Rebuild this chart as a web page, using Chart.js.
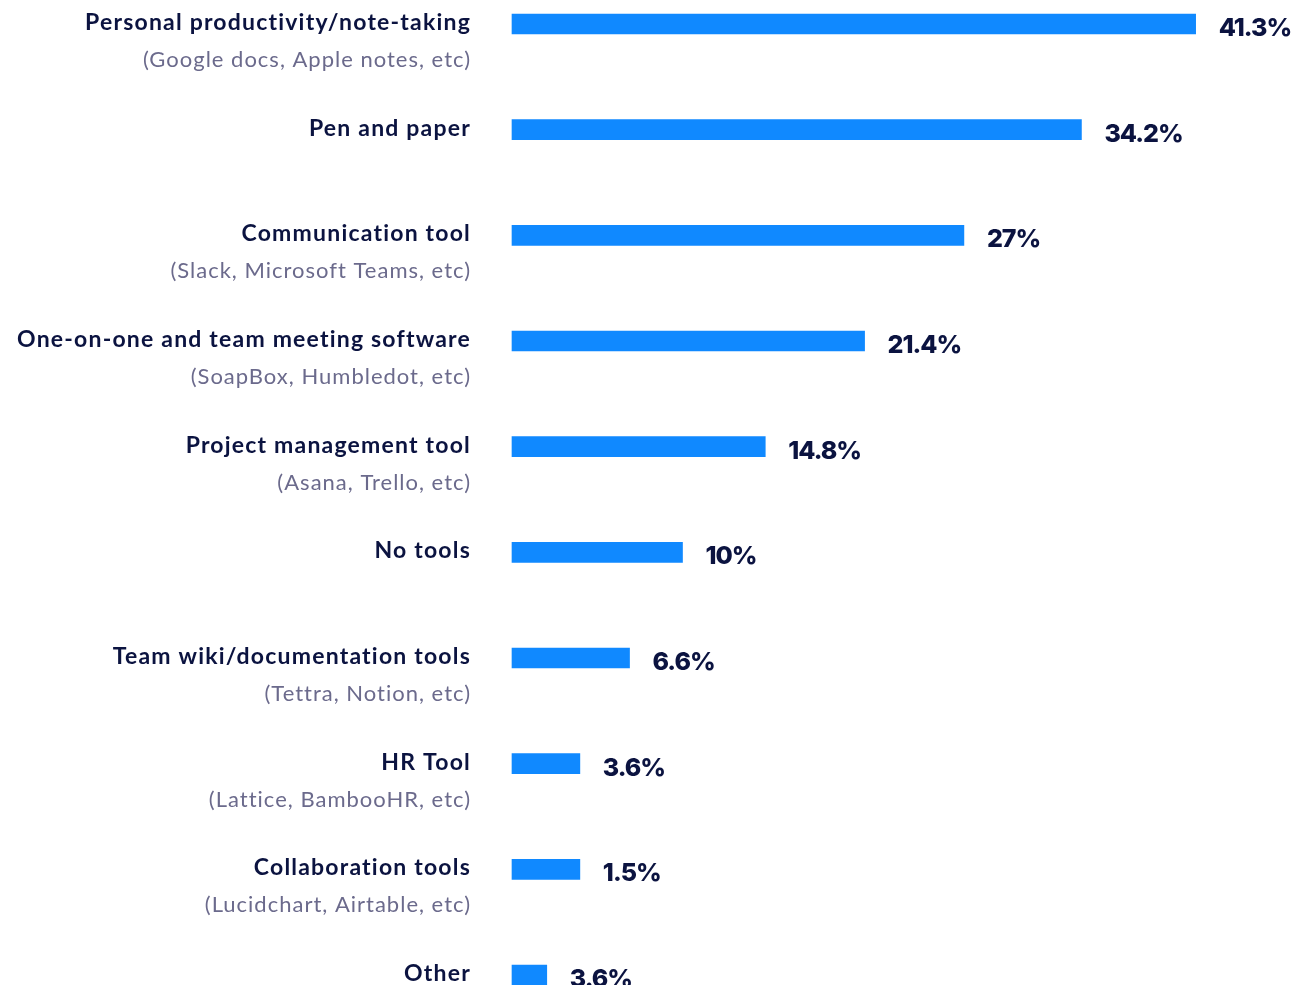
<!DOCTYPE html>
<html>
<head>
<meta charset="utf-8">
<script src="https://cdn.jsdelivr.net/npm/chart.js@4"></script>
<style>
  html, body { margin: 0; padding: 0; background: #ffffff; }
  canvas { display: block; }
</style>
</head>
<body>
<canvas id="grafico" width="1300" height="985"></canvas>
<script>
// categorias e subtitulos (linha cinza por baixo)
const categorias = [
  'Personal productivity/note-taking',
  'Pen and paper',
  'Communication tool',
  'One-on-one and team meeting software',
  'Project management tool',
  'No tools',
  'Team wiki/documentation tools',
  'HR Tool',
  'Collaboration tools',
  'Other'
];
const subtitulos = [
  '(Google docs, Apple notes, etc)',
  '',
  '(Slack, Microsoft Teams, etc)',
  '(SoapBox, Humbledot, etc)',
  '(Asana, Trello, etc)',
  '',
  '(Tettra, Notion, etc)',
  '(Lattice, BambooHR, etc)',
  '(Lucidchart, Airtable, etc)',
  ''
];
// comprimento das barras
const valores = [41.3, 34.4, 27.3, 21.3, 15.3, 10.3, 7.1, 4.1, 4.1, 2.1];
// rotulos mostrados ao lado de cada barra
const rotulos = ['41.3%', '34.2%', '27%', '21.4%', '14.8%', '10%', '6.6%', '3.6%', '1.5%', '3.6%'];

const corBarra = '#1089ff';
const corTexto = '#0b1340';
const corSub = '#6b6a8c';

// desenha os nomes das categorias a esquerda
const nomesPlugin = {
  id: 'nomes',
  afterDraw(chart) {
    const ctx = chart.ctx;
    const y = chart.scales.y;
    ctx.save();
    ctx.textAlign = 'right';
    ctx.textBaseline = 'alphabetic';
    categorias.forEach((nome, i) => {
      const cy = y.getPixelForValue(i);
      ctx.fillStyle = corTexto;
      ctx.font = 'bold 23px Lato';
      ctx.letterSpacing = '1.2px';
      ctx.fillText(nome, 471, cy + 6);
      if (subtitulos[i]) {
        ctx.fillStyle = corSub;
        ctx.font = '22px Lato';
        ctx.letterSpacing = '1px';
        ctx.fillText(subtitulos[i], 471, cy + 43);
      }
    });
    ctx.restore();
  }
};

// percentagens ao fim de cada barra
const valoresPlugin = {
  id: 'valores',
  afterDatasetsDraw(chart) {
    const ctx = chart.ctx;
    const meta = chart.getDatasetMeta(0);
    ctx.save();
    ctx.fillStyle = corTexto;
    ctx.font = '800 25px Inter';
    ctx.letterSpacing = '-1px';
    ctx.textAlign = 'left';
    ctx.textBaseline = 'alphabetic';
    meta.data.forEach((bar, i) => {
      ctx.fillText(rotulos[i], bar.x + 23, bar.y + 12);
    });
    ctx.restore();
  }
};

new Chart(document.getElementById('grafico').getContext('2d'), {
  type: 'bar',
  data: {
    labels: categorias,
    datasets: [{
      data: valores,
      backgroundColor: corBarra,
      borderWidth: 0,
      barThickness: 20,
      clip: false
    }]
  },
  options: {
    indexAxis: 'y',
    responsive: false,
    animation: false,
    layout: { padding: { left: 512, right: 10, top: 24, bottom: 10 } },
    plugins: {
      legend: { display: false },
      tooltip: { enabled: false }
    },
    scales: {
      x: {
        min: 0,
        max: 47,
        display: false
      },
      y: {
        offset: false,
        display: false,
        grid: { display: false }
      }
    }
  },
  plugins: [nomesPlugin, valoresPlugin]
});
</script>
</body>
</html>
